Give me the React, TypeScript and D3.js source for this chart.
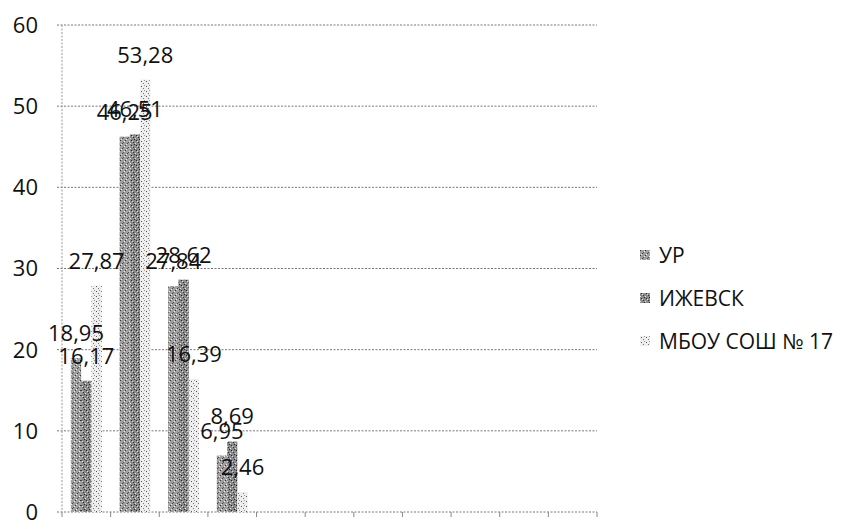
import React from "react";
import * as d3 from "d3";

const categories = ["1", "2", "3", "4", "5", "6", "7", "8", "9", "10", "11"];
const seriesNames = ["УР", "ИЖЕВСК", "МБОУ СОШ № 17"];
const urValues = [18.95, 46.25, 27.84, 6.95];
const izhValues = [16.17, 46.51, 28.62, 8.69];
const schoolValues = [27.87, 53.28, 16.39, 2.46];
const yTicks = [0, 10, 20, 30, 40, 50, 60];

const seriesValues = [urValues, izhValues, schoolValues];
const fills = ["url(#patUR)", "url(#patIZH)", "url(#patSCH)"];

const W = 859;
const H = 529;
const left = 62;
const right = 597;
const top = 25;
const bottom = 512;
const font = "'Open Sans', 'Noto Sans', sans-serif";

export default function App() {
  const x = d3.scaleBand().domain(categories).range([left, right]).padding(0);
  const y = d3.scaleLinear().domain([0, 60]).range([bottom, top]);
  const inner = d3
    .scaleBand()
    .domain(seriesNames)
    .range([0, x.bandwidth()])
    .paddingInner(0)
    .paddingOuter(0.86);
  const bw = inner.bandwidth();
  const fmt = (v: number) => v.toFixed(2).replace(".", ",");

  return (
    <svg width={W} height={H} style={{ position: "absolute", left: 0, top: 0, background: "#fff" }}>
      <defs>
        <pattern id="patUR" width="5" height="5" patternUnits="userSpaceOnUse">
          <rect width="5" height="5" fill="#a0a0a0" />
          <rect x="0" y="0" width="1" height="1" fill="#333" />
          <rect x="2" y="3" width="1" height="1" fill="#444" />
          <rect x="4" y="1" width="1" height="1" fill="#f0f0f0" />
          <rect x="1" y="4" width="1" height="1" fill="#eee" />
          <rect x="3" y="2" width="1" height="1" fill="#555" />
        </pattern>
        <pattern id="patIZH" width="5" height="5" patternUnits="userSpaceOnUse">
          <rect width="5" height="5" fill="#8a8a8a" />
          <rect x="1" y="0" width="1" height="1" fill="#222" />
          <rect x="3" y="2" width="1" height="1" fill="#333" />
          <rect x="0" y="3" width="1" height="1" fill="#e5e5e5" />
          <rect x="4" y="4" width="1" height="1" fill="#2a2a2a" />
          <rect x="2" y="1" width="1" height="1" fill="#ddd" />
        </pattern>
        <pattern id="patSCH" width="5" height="5" patternUnits="userSpaceOnUse">
          <rect width="5" height="5" fill="#eeeeee" />
          <rect x="1" y="1" width="1" height="1" fill="#555" />
          <rect x="3" y="3" width="1" height="1" fill="#777" />
          <rect x="4" y="0" width="1" height="1" fill="#999" />
        </pattern>
      </defs>
      {yTicks.map((t) => (
        <g key={t}>
          <line x1={57} x2={right} y1={y(t)} y2={y(t)} stroke="#777" strokeWidth={1} strokeDasharray="2,1.5" />
          <text x={38} y={y(t)} dy="0.36em" textAnchor="end" fontFamily={font} fontSize={22} fill="#111">
            {t}
          </text>
        </g>
      ))}
      <line x1={left} x2={left} y1={top} y2={bottom} stroke="#999" strokeDasharray="2,1.5" />
      {categories.map((c) => (
        <line key={c} x1={x(c)!} x2={x(c)!} y1={bottom} y2={bottom + 5} stroke="#888" />
      ))}
      <line x1={right} x2={right} y1={bottom} y2={bottom + 5} stroke="#888" />
      {seriesValues.map((vals, si) =>
        vals.map((v, i) => (
          <rect
            key={si + "-" + i}
            x={x(categories[i])! + inner(seriesNames[si])!}
            y={y(v)}
            width={bw}
            height={bottom - y(v)}
            fill={fills[si]}
          />
        ))
      )}
      {seriesValues.map((vals, si) =>
        vals.map((v, i) => (
          <text
            key={"l" + si + "-" + i}
            x={x(categories[i])! + inner(seriesNames[si])! + bw / 2}
            y={y(v) - 17}
            textAnchor="middle"
            fontFamily={font}
            fontSize={22}
            fill="#111"
          >
            {fmt(v)}
          </text>
        ))
      )}
      {seriesNames.map((n, i) => (
        <g key={n} transform={`translate(640, ${255 + i * 43})`}>
          <rect x={0} y={-5} width={10} height={10} fill={fills[i]} />
          <text x={19} y={0} dy="0.36em" fontFamily={font} fontSize={21} fill="#111">
            {n}
          </text>
        </g>
      ))}
    </svg>
  );
}
